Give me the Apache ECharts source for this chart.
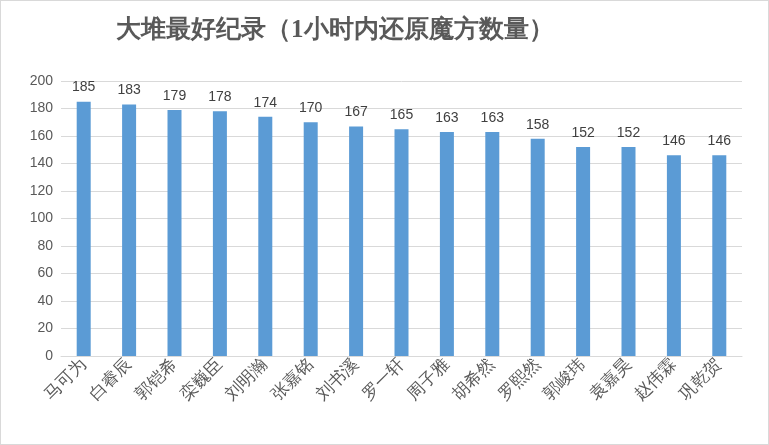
<!DOCTYPE html><html><head><meta charset="utf-8"><script src="https://cdn.jsdelivr.net/npm/echarts@6/dist/echarts.min.js"></script>
<style>body{margin:0}#c{width:767px;height:443px;border:1px solid #d9d9d9}</style></head><body><div id="c"></div><script>
const categories=['马可为','白睿辰','郭铠希','栾巍臣','刘明瀚','张嘉铭','刘书溪','罗一轩','周子雅','胡希然','罗熙然','郭峻玮','袁嘉昊','赵伟霖','巩乾贺'];
const values=[185,183,179,178,174,170,167,165,163,163,158,152,152,146,146];
const c=echarts.init(document.getElementById('c'));
c.setOption({
title:{text:'大堆最好纪录（1小时内还原魔方数量）',left:110,top:12,textStyle:{fontFamily:'serif',fontSize:25,fontWeight:'bold',color:'#595959'}},
grid:{left:60,right:26,top:80,bottom:88},
xAxis:{type:'category',data:categories,axisTick:{show:false},axisLine:{lineStyle:{color:'#d9d9d9'}},
axisLabel:{rotate:45,interval:0,fontFamily:'serif',fontSize:17,color:'#595959',margin:6}},
yAxis:{type:'value',min:0,max:200,interval:20,axisLabel:{fontSize:14,color:'#595959'},splitLine:{lineStyle:{color:'#d9d9d9'}}},
series:[{type:'bar',data:values,barWidth:14,itemStyle:{color:'#5b9bd5'},label:{show:true,position:'top',fontSize:14,color:'#404040',distance:7}}]
});
</script></body></html>
